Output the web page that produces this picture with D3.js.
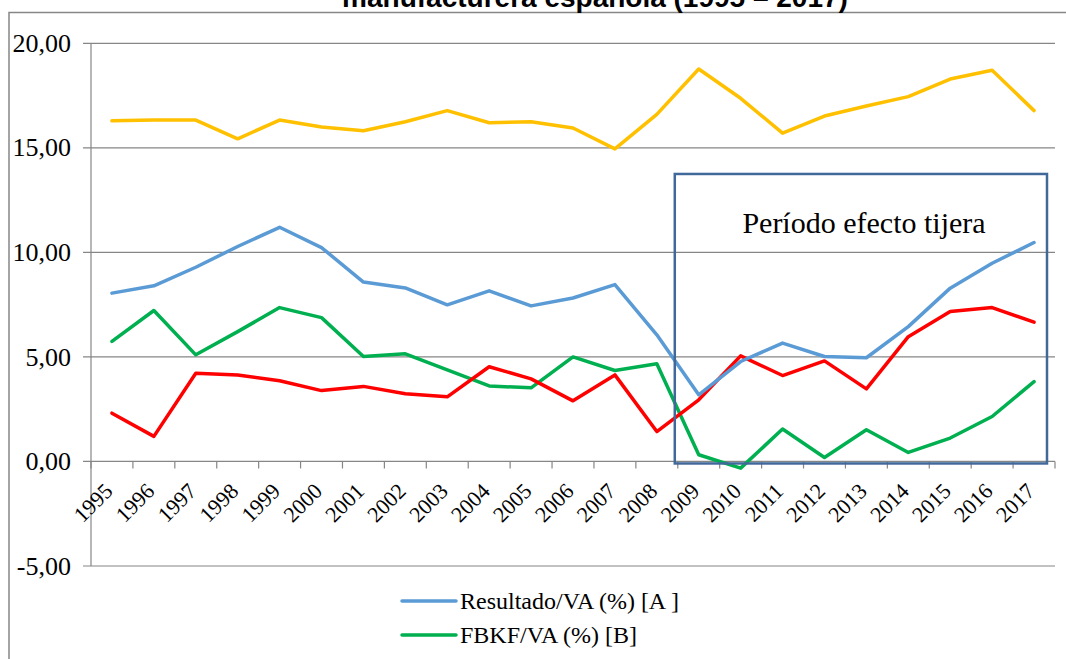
<!DOCTYPE html>
<html>
<head>
<meta charset="utf-8">
<script src="https://cdn.jsdelivr.net/npm/d3@7"></script>
<style>
  body { margin: 0; background: #fff; }
  svg { display: block; }
  .serif { font-family: "Liberation Serif", "Times New Roman", serif; fill: #000; }
</style>
</head>
<body>
<svg class="chart"></svg>
<script>
// DATA /////////////////////////////////////////
const years = ["1995", "1996", "1997", "1998", "1999", "2000", "2001", "2002",
  "2003", "2004", "2005", "2006", "2007", "2008", "2009", "2010", "2011",
  "2012", "2013", "2014", "2015", "2016", "2017"];

const resultadoVA = [8.05, 8.40, 9.29, 10.28, 11.20, 10.23, 8.58, 8.30, 7.49, 8.16,
  7.44, 7.82, 8.46, 6.06, 3.19, 4.78, 5.66, 5.02, 4.96, 6.45, 8.29, 9.48, 10.47];

const fbkfVA = [5.74, 7.22, 5.10, 6.21, 7.36, 6.88, 5.02, 5.15, 4.38, 3.61,
  3.52, 5.00, 4.35, 4.67, 0.32, -0.32, 1.55, 0.19, 1.52, 0.43, 1.12, 2.15, 3.82];

const redSeries = [2.31, 1.20, 4.22, 4.14, 3.86, 3.39, 3.59, 3.24, 3.09, 4.53,
  3.95, 2.90, 4.14, 1.43, 2.95, 5.05, 4.11, 4.81, 3.47, 5.97, 7.17, 7.36, 6.66];

const yellowSeries = [16.29, 16.33, 16.33, 15.43, 16.33, 16.00, 15.82, 16.25, 16.78, 16.20,
  16.25, 15.95, 14.95, 16.60, 18.77, 17.37, 15.70, 16.52, 17.00, 17.45, 18.29, 18.71, 16.78];

const yTicks = [-5, 0, 5, 10, 15, 20];

const series = [
  { name: "FBKF/VA (%) [B]", values: fbkfVA, color: "#00b050" },
  { name: "Red", values: redSeries, color: "#ff0000" },
  { name: "Resultado/VA (%) [A ]", values: resultadoVA, color: "#5b9bd5" },
  { name: "Yellow", values: yellowSeries, color: "#ffc000" },
];
const legendItems = ["Resultado/VA (%) [A ]", "FBKF/VA (%) [B]"];

const title = "manufacturera española (1995 – 2017)";
const boxLabel = "Período efecto tijera";

// DEFINITIONS ////////////////////////////////
const W = 1066, H = 659;
const plot = { left: 91, right: 1055, top: 43.3, bottom: 566 };
const gridColor = "#868686";

const svg = d3.select(".chart").attr("width", W).attr("height", H);

const x = d3.scaleBand().domain(years).range([plot.left, plot.right]).padding(0);
const xc = (d) => x(d) + x.bandwidth() / 2;
const y = d3.scaleLinear().domain([-5, 20]).range([plot.bottom, plot.top]);

const fmt = (v) => d3.format(".2f")(v).replace(".", ",").replace("−", "-");

// outer chart frame
svg.append("rect")
  .attr("x", 9).attr("y", 12.5)
  .attr("width", W + 20).attr("height", H + 20)
  .attr("fill", "none").attr("stroke", gridColor).attr("stroke-width", 1.5);

// title (cut off at top)
svg.append("text")
  .attr("x", 595).attr("y", 7)
  .attr("text-anchor", "middle")
  .style("font-family", "'Liberation Sans', Arial, sans-serif")
  .style("font-weight", "bold")
  .style("font-size", "28px")
  .text(title);

// gridlines
svg.append("g")
  .selectAll("line")
  .data(yTicks)
  .join("line")
  .attr("x1", plot.left - 8).attr("x2", plot.right)
  .attr("y1", (d) => y(d)).attr("y2", (d) => y(d))
  .attr("stroke", gridColor).attr("stroke-width", 1.2);

// y axis line
svg.append("line")
  .attr("x1", plot.left).attr("x2", plot.left)
  .attr("y1", y(20)).attr("y2", y(-5))
  .attr("stroke", gridColor).attr("stroke-width", 1.2);

// y labels
svg.append("g")
  .selectAll("text")
  .data(yTicks)
  .join("text")
  .attr("class", "serif")
  .attr("x", 71)
  .attr("y", (d) => y(d))
  .attr("dy", "0.33em")
  .attr("text-anchor", "end")
  .style("font-size", "26px")
  .text(fmt);

// x ticks at category boundaries
const bounds = years.map((d) => x(d)).concat([plot.right]);
svg.append("g")
  .selectAll("line")
  .data(bounds)
  .join("line")
  .attr("x1", (d) => d).attr("x2", (d) => d)
  .attr("y1", y(0)).attr("y2", y(0) + 7)
  .attr("stroke", gridColor).attr("stroke-width", 1.2);

// x labels
svg.append("g")
  .selectAll("text")
  .data(years)
  .join("text")
  .attr("class", "serif")
  .attr("text-anchor", "end")
  .attr("transform", (d) => `translate(${xc(d) + 2}, ${y(0) + 31}) rotate(-45)`)
  .style("font-size", "22px")
  .text((d) => d);

// LINES /////////////////////////////////////
const line = d3.line()
  .x((d, i) => xc(years[i]))
  .y((d) => y(d));

svg.append("g")
  .selectAll("path")
  .data(series)
  .join("path")
  .attr("d", (d) => line(d.values))
  .attr("fill", "none")
  .attr("stroke", (d) => d.color)
  .attr("stroke-width", 3.5)
  .attr("stroke-linejoin", "round")
  .attr("stroke-linecap", "round");

// annotation box
const boxX0 = x("2009") - 3;
const boxX1 = plot.right - 8;
const boxY0 = y(13.75);
const boxY1 = y(0) + 2;
svg.append("rect")
  .attr("x", boxX0).attr("y", boxY0)
  .attr("width", boxX1 - boxX0).attr("height", boxY1 - boxY0)
  .attr("fill", "none")
  .attr("stroke", "#41689a")
  .attr("stroke-width", 2.5);

svg.append("text")
  .attr("class", "serif")
  .attr("x", 864).attr("y", boxY0 + 59)
  .attr("text-anchor", "middle")
  .style("font-size", "30px")
  .text(boxLabel);

// LEGEND ////////////////////////////////////
const legend = svg.append("g")
  .selectAll("g")
  .data(legendItems)
  .join("g")
  .attr("transform", (d, i) => `translate(402, ${601 + i * 34})`);

legend.append("line")
  .attr("x1", 0).attr("x2", 54)
  .attr("stroke", (d) => series.find((s) => s.name === d).color)
  .attr("stroke-width", 3.5)
  .attr("stroke-linecap", "round");

legend.append("text")
  .attr("class", "serif")
  .attr("x", 58)
  .attr("dy", "0.35em")
  .style("font-size", "24px")
  .text((d) => d);
</script>
</body>
</html>
